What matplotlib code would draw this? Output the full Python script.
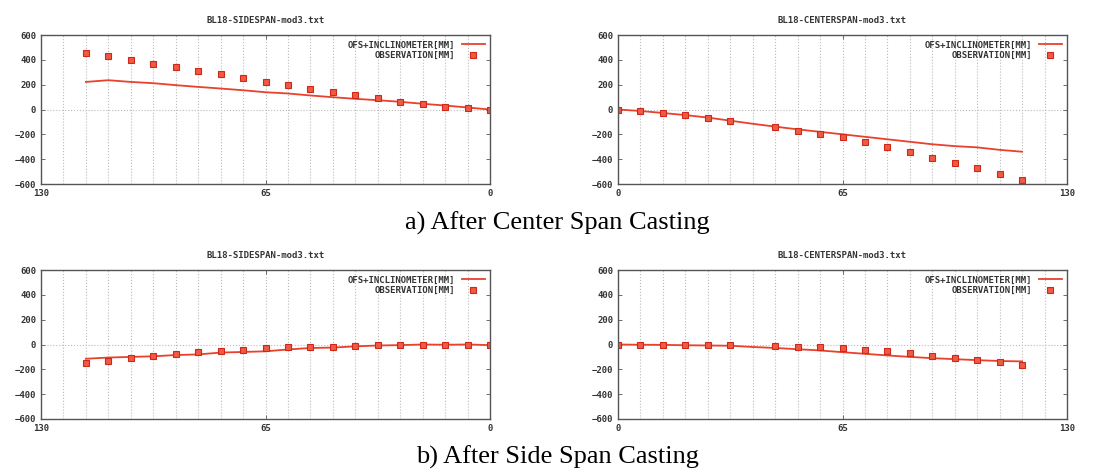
import matplotlib
matplotlib.use("Agg")
import matplotlib.pyplot as plt

# stations along the span (m), every 6.5
stations = [0, 6.5, 13, 19.5, 26, 32.5, 39, 45.5, 52, 58.5, 65, 71.5, 78,
            84.5, 91, 97.5, 104, 110.5, 117]
# centre span observations skip station 39
stations_center_obs = [0, 6.5, 13, 19.5, 26, 32.5, 45.5, 52, 58.5, 65, 71.5,
                       78, 84.5, 91, 97.5, 104, 110.5, 117]

# a) after center span casting
a_side_line = [0, 16, 32, 46, 62, 75, 86, 99, 113, 129, 139, 155, 169, 182,
               196, 212, 222, 236, 222]
a_side_obs = [0, 13, 24, 48, 64, 96, 115, 137, 166, 201, 222, 255, 284, 308,
              343, 370, 396, 431, 458]
a_center_line = [0, -12, -28, -45, -65, -90, -115, -138, -160, -180, -200,
                 -220, -240, -260, -280, -295, -305, -325, -340]
a_center_obs = [0, -16, -32, -45, -70, -91, -139, -174, -201, -222, -265,
                -305, -346, -388, -429, -471, -517, -568]

# b) after side span casting
b_side_line = [-5, 0, -2, 0, -5, -8, -15, -25, -28, -40, -55, -60, -65, -80,
               -85, -95, -100, -105, -115]
b_side_obs = [0, 0, 0, 0, -3, -8, -13, -19, -19, -21, -32, -45, -53, -64,
              -77, -93, -107, -131, -152]
b_center_line = [0, -2, -3, -6, -8, -10, -20, -28, -38, -48, -62, -75, -88,
                 -100, -110, -118, -126, -133, -136]
b_center_obs = [0, -5, 0, -3, -5, -3, -11, -19, -24, -32, -45, -56, -72, -91,
                -107, -125, -144, -165]

titles = ["BL18-SIDESPAN-mod3.txt", "BL18-CENTERSPAN-mod3.txt"]
captions = ["a) After Center Span Casting", "b) After Side Span Casting"]

RED = "#e8412c"
MONO = "DejaVu Sans Mono"

fig = plt.figure(figsize=(11.2, 4.72), dpi=100)


def draw_panel(rect, title, x_line, y_line, x_obs, y_obs, reverse):
    ax = fig.add_axes(rect)
    ax.plot(x_line, y_line, color=RED, lw=1.3, label="OFS+INCLINOMETER[MM]")
    ax.plot(x_obs, y_obs, ls="none", marker="s", ms=4.8, color="#ee5a44",
            mec="#d02818", mew=0.8, label="OBSERVATION[MM]")
    ax.set_ylim(-600, 600)
    if reverse:
        ax.set_xlim(130, 0)
    else:
        ax.set_xlim(0, 130)
    ax.set_xticks([0, 65, 130])
    ax.set_xticks(stations + [123.5], minor=True)
    ax.set_yticks([-600, -400, -200, 0, 200, 400, 600])
    ax.grid(True, axis="x", which="both", color="#bbbbbb", ls=":", lw=0.8)
    ax.axhline(0, color="#bbbbbb", ls=":", lw=0.8, zorder=0)
    ax.tick_params(which="both", direction="in", top=True, right=True,
                   length=3, width=0.6, color="#555555")
    ax.tick_params(which="minor", length=0)
    for lab in ax.get_xticklabels() + ax.get_yticklabels():
        lab.set_fontfamily(MONO)
        lab.set_fontweight("bold")
        lab.set_fontsize(6.5)
        lab.set_color("#333333")
    for s in ax.spines.values():
        s.set_color("#555555")
        s.set_linewidth(1.0)
    ax.set_title(title, fontsize=6.5, family=MONO, fontweight="bold",
                 color="#333333", pad=9)
    ax.legend(loc="upper right", frameon=False, markerfirst=False,
              prop={"family": MONO, "weight": "bold", "size": 6.5},
              handlelength=2.5, borderaxespad=0.2, labelspacing=0.2,
              handletextpad=0.8, labelcolor="#333333")
    return ax


top_b, bot_b, h = 1 - 184 / 472, 1 - 419 / 472, 149 / 472
left_l, left_r, w = 41 / 1120, 618 / 1120, 449 / 1120

draw_panel([left_l, top_b, w, h], titles[0], stations, a_side_line,
           stations, a_side_obs, True)
draw_panel([left_r, top_b, w, h], titles[1], stations, a_center_line,
           stations_center_obs, a_center_obs, False)
draw_panel([left_l, bot_b, w, h], titles[0], stations, b_side_line,
           stations, b_side_obs, True)
draw_panel([left_r, bot_b, w, h], titles[1], stations, b_center_line,
           stations_center_obs, b_center_obs, False)

fig.text(0.4975, 1 - 223 / 472, captions[0], ha="center", va="center",
         family="Liberation Serif", fontsize=19)
fig.text(0.4975, 1 - 457 / 472, captions[1], ha="center", va="center",
         family="Liberation Serif", fontsize=19)

fig.savefig("out.png", dpi=100)
